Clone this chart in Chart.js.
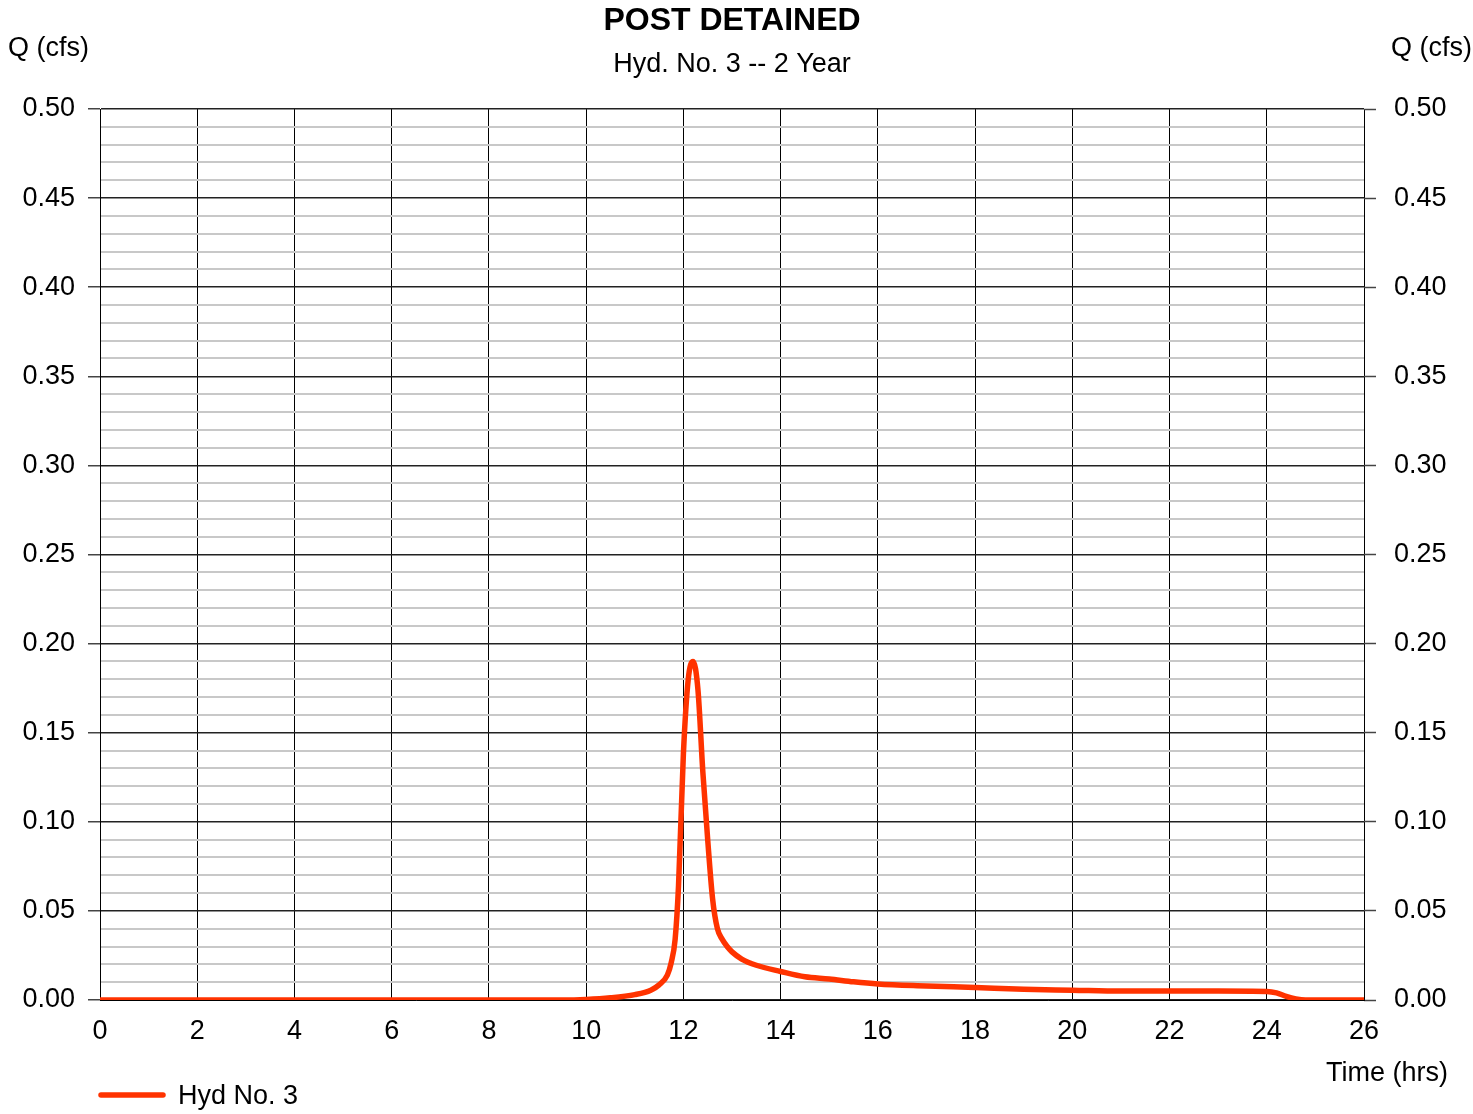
<!DOCTYPE html>
<html>
<head>
<meta charset="utf-8">
<script src="https://cdn.jsdelivr.net/npm/chart.js@4.4.1/dist/chart.umd.min.js"></script>
<style>
html,body{margin:0;padding:0;background:#fff;}
#wrap{width:1473px;height:1114px;position:relative;}
</style>
</head>
<body>
<div id="wrap"><canvas id="c" width="1473" height="1114"></canvas></div>
<script>
// ---- data ----
const titleText = "POST DETAINED";
const subtitleText = "Hyd. No. 3 -- 2 Year";
const seriesName = "Hyd No. 3";
const hours = [0, 2, 4, 6, 8, 9.5, 10, 10.5, 11, 11.33, 11.5, 11.67, 11.75, 11.83, 11.9, 12.0, 12.1, 12.2, 12.3, 12.4, 12.5, 12.6, 12.7, 12.8, 12.9, 13.0, 13.2, 13.5, 14, 14.5, 15, 15.5, 16, 17, 18, 19, 20, 21, 22, 23, 24, 24.2, 24.4, 24.6, 24.8, 25, 26];
const flows = [0, 0, 0, 0, 0, 0, 0.0003, 0.0012, 0.003, 0.0055, 0.0085, 0.014, 0.021, 0.034, 0.064, 0.138, 0.18, 0.19, 0.174, 0.128, 0.09, 0.057, 0.04, 0.034, 0.030, 0.027, 0.023, 0.0195, 0.016, 0.013, 0.0118, 0.0102, 0.009, 0.0079, 0.007, 0.006, 0.0055, 0.005, 0.005, 0.005, 0.0048, 0.004, 0.002, 0.0006, 0, 0, 0];
const xTicks = {min: 0, max: 26, step: 2};
const yTicks = {min: 0, max: 0.5, step: 0.01, majorEvery: 5};

const FONT = "'Liberation Sans', Arial, sans-serif";
const isMajor = v => Math.round(v * 100) % yTicks.majorEvery === 0;

const textPlugin = {
  id: 'texts',
  afterDraw(chart) {
    const c = chart.ctx;
    c.save();
    c.fillStyle = '#000';
    c.textBaseline = 'middle';
    c.textAlign = 'center';
    c.font = "bold 32px " + FONT;
    c.fillText(titleText, 732, 21);
    c.font = "27px " + FONT;
    c.fillText(subtitleText, 732, 65);
    c.textAlign = 'left';
    c.fillText("Q (cfs)", 8, 49);
    c.textAlign = 'right';
    c.fillText("Q (cfs)", 1472, 49);
    c.fillText("Time (hrs)", 1448, 1074);
    // legend
    c.strokeStyle = '#ff3300';
    c.lineWidth = 5.5;
    c.lineCap = 'round';
    c.beginPath();
    c.moveTo(101, 1095);
    c.lineTo(163, 1095);
    c.stroke();
    c.textAlign = 'left';
    c.fillText(seriesName, 178, 1097);
    c.restore();
  }
};

const gridColor = ctx => (ctx.tick && isMajor(ctx.tick.value)) ? '#222222' : '#c8c8c8';
const gridWidth = ctx => (ctx.tick && isMajor(ctx.tick.value)) ? 1.5 : 2;
const tickCol = ctx => (ctx.tick && isMajor(ctx.tick.value)) ? '#444444' : 'rgba(0,0,0,0)';
const yLabel = v => isMajor(v) ? Number(v).toFixed(2) : '';

new Chart(document.getElementById('c'), {
  type: 'line',
  data: {
    datasets: [{
      label: seriesName,
      data: hours.map((h, i) => ({x: h, y: flows[i]})),
      borderColor: '#ff3300',
      borderWidth: 5.5,
      pointRadius: 0,
      cubicInterpolationMode: 'monotone',
      borderCapStyle: 'round',
      borderJoinStyle: 'round',
      fill: false
    }]
  },
  options: {
    responsive: false,
    animation: false,
    devicePixelRatio: 1,
    layout: {padding: {top: 109, left: 0, right: 0, bottom: 0}},
    plugins: {legend: {display: false}, title: {display: false}, tooltip: {enabled: false}},
    scales: {
      x: {
        type: 'linear', min: xTicks.min, max: xTicks.max,
        ticks: {stepSize: xTicks.step, color: '#000', font: {family: FONT, size: 27}, padding: 15, maxRotation: 0, autoSkip: false},
        grid: {color: '#000', lineWidth: 1, drawTicks: false},
        border: {display: true, color: '#000', width: 1},
        afterFit(s) { s.height = 114; }
      },
      y: {
        position: 'left', min: yTicks.min, max: yTicks.max,
        ticks: {stepSize: yTicks.step, autoSkip: false, color: '#000', font: {family: FONT, size: 27}, padding: 13, callback: yLabel},
        grid: {color: gridColor, lineWidth: gridWidth, tickColor: tickCol, tickLength: 12, tickWidth: 1.5},
        border: {display: true, color: '#000', width: 1},
        afterFit(s) { s.width = 100; }
      },
      y2: {
        position: 'right', min: yTicks.min, max: yTicks.max,
        ticks: {stepSize: yTicks.step, autoSkip: false, color: '#000', font: {family: FONT, size: 27}, padding: 18, callback: yLabel},
        grid: {drawOnChartArea: false, color: gridColor, tickColor: tickCol, tickLength: 12, tickWidth: 1.5},
        border: {display: false},
        afterFit(s) { s.width = 109; }
      }
    }
  },
  plugins: [textPlugin]
});
</script>
</body>
</html>
